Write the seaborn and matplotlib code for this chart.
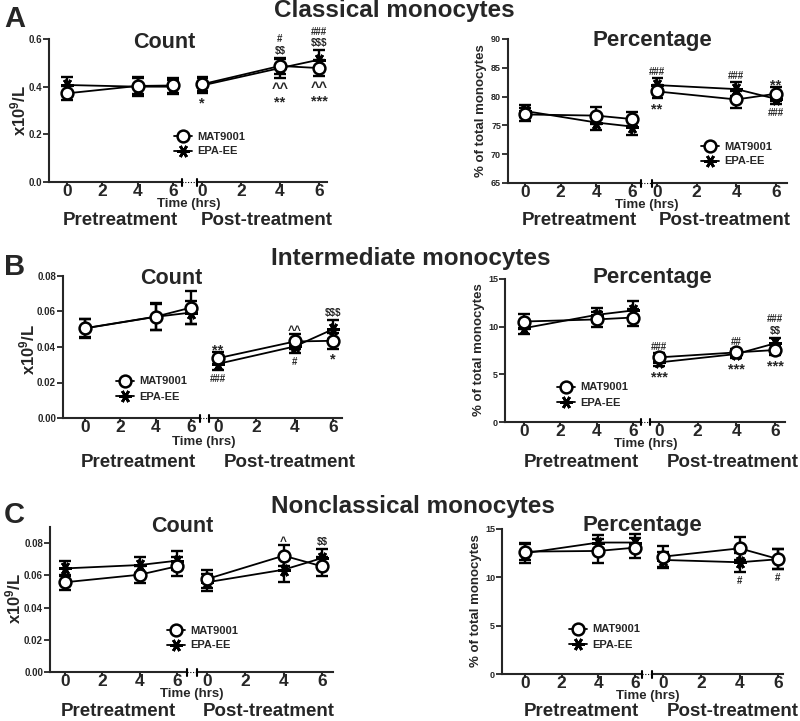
import matplotlib
matplotlib.use("Agg")
import matplotlib.pyplot as plt
from matplotlib.lines import Line2D
import seaborn as sns

# ------------------------------------------------------------------ data
TIMES = [0, 4, 6]
XTICKS = [0, 2, 4, 6]
GROUPS = ["MAT9001", "EPA-EE"]
SEGMENT_LABELS = ["Pretreatment", "Post-treatment"]
X_LABEL = "Time (hrs)"
ROW_TITLES = ["Classical monocytes", "Intermediate monocytes", "Nonclassical monocytes"]
ROW_LETTERS = ["A", "B", "C"]
COL_TITLES = ["Count", "Percentage"]
Y_LABELS = ["x10$^{9}$/L", "% of total monocytes"]

# A - classical, count
A_CNT_MAT_PRE = [0.372, 0.403, 0.405]
A_CNT_MAT_PRE_SEM = [0.030, 0.035, 0.030]
A_CNT_EPA_PRE = [0.407, 0.400, 0.400]
A_CNT_EPA_PRE_SEM = [0.033, 0.040, 0.030]
A_CNT_MAT_POST = [0.410, 0.487, 0.478]
A_CNT_MAT_POST_SEM = [0.030, 0.035, 0.035]
A_CNT_EPA_POST = [0.405, 0.478, 0.513]
A_CNT_EPA_POST_SEM = [0.030, 0.040, 0.040]
A_CNT_SIG = [(0, [], ["*"]), (4, ["$$", "#"], ["^^", "**"]), (6, ["$$$", "###"], ["^^", "***"])]
A_CNT_YTICKS = [0.0, 0.2, 0.4, 0.6]

# A - classical, percentage
A_PCT_MAT_PRE = [76.9, 76.7, 76.1]
A_PCT_MAT_PRE_SEM = [1.1, 1.5, 1.2]
A_PCT_EPA_PRE = [77.5, 75.5, 74.8]
A_PCT_EPA_PRE_SEM = [1.0, 1.3, 1.4]
A_PCT_MAT_POST = [80.9, 79.5, 80.5]
A_PCT_MAT_POST_SEM = [1.2, 1.5, 1.2]
A_PCT_EPA_POST = [82.0, 81.3, 79.6]
A_PCT_EPA_POST_SEM = [1.2, 1.2, 0.9]
A_PCT_SIG = [(0, ["###"], ["**"]), (4, ["###"], []), (6, ["**"], ["###"])]
A_PCT_YTICKS = [65, 70, 75, 80, 85, 90]

# B - intermediate, count
B_CNT_MAT_PRE = [0.0506, 0.0571, 0.0622]
B_CNT_MAT_PRE_SEM = [0.0050, 0.0075, 0.0095]
B_CNT_EPA_PRE = [0.0505, 0.0570, 0.0594]
B_CNT_EPA_PRE_SEM = [0.0055, 0.0073, 0.0064]
B_CNT_MAT_POST = [0.0337, 0.0431, 0.0435]
B_CNT_MAT_POST_SEM = [0.0034, 0.0043, 0.0045]
B_CNT_EPA_POST = [0.0305, 0.0403, 0.0500]
B_CNT_EPA_POST_SEM = [0.0033, 0.0038, 0.0053]
B_CNT_SIG = [(0, ["**"], ["###"]), (4, ["^^"], ["#"]), (6, ["$$$"], ["*"])]
B_CNT_YTICKS = [0.00, 0.02, 0.04, 0.06, 0.08]

# B - intermediate, percentage
B_PCT_MAT_PRE = [10.54, 10.76, 10.96]
B_PCT_MAT_PRE_SEM = [0.80, 0.80, 0.88]
B_PCT_EPA_PRE = [9.84, 11.24, 11.70]
B_PCT_EPA_PRE_SEM = [0.65, 0.70, 0.95]
B_PCT_MAT_POST = [6.78, 7.30, 7.55]
B_PCT_MAT_POST_SEM = [0.45, 0.40, 0.55]
B_PCT_EPA_POST = [6.25, 7.13, 8.25]
B_PCT_EPA_POST_SEM = [0.40, 0.45, 0.60]
B_PCT_SIG = [(0, ["###"], ["***"]), (4, ["##"], ["***"]), (6, ["$$", "###"], ["***"])]
B_PCT_YTICKS = [0, 5, 10, 15]

# C - nonclassical, count
C_CNT_MAT_PRE = [0.0557, 0.0604, 0.0656]
C_CNT_MAT_PRE_SEM = [0.0048, 0.0054, 0.0058]
C_CNT_EPA_PRE = [0.0643, 0.0664, 0.0691]
C_CNT_EPA_PRE_SEM = [0.0048, 0.0050, 0.0057]
C_CNT_MAT_POST = [0.0577, 0.0722, 0.0656]
C_CNT_MAT_POST_SEM = [0.0056, 0.0066, 0.0058]
C_CNT_EPA_POST = [0.0557, 0.0635, 0.0707]
C_CNT_EPA_POST_SEM = [0.0052, 0.0078, 0.0055]
C_CNT_SIG = [(4, ["^"], []), (6, ["$$"], [])]
C_CNT_YTICKS = [0.00, 0.02, 0.04, 0.06, 0.08]

# C - nonclassical, percentage
C_PCT_MAT_PRE = [12.66, 12.73, 13.07]
C_PCT_MAT_PRE_SEM = [0.90, 1.27, 1.03]
C_PCT_EPA_PRE = [12.50, 13.60, 13.60]
C_PCT_EPA_PRE_SEM = [1.00, 0.80, 0.85]
C_PCT_MAT_POST = [12.14, 13.00, 11.90]
C_PCT_MAT_POST_SEM = [1.10, 1.20, 1.04]
C_PCT_EPA_POST = [11.80, 11.56, 11.87]
C_PCT_EPA_POST_SEM = [0.86, 0.96, 1.03]
C_PCT_SIG = [(4, [], ["#"]), (6, [], ["#"])]
C_PCT_YTICKS = [0, 5, 10, 15]

# ------------------------------------------------------------------ style
sns.set_style("ticks")
plt.rcParams["font.family"] = ["Liberation Sans", "DejaVu Sans"]
plt.rcParams["font.weight"] = "bold"
plt.rcParams["mathtext.fontset"] = "custom"
plt.rcParams["mathtext.rm"] = "Liberation Sans:bold"
plt.rcParams["mathtext.bf"] = "Liberation Sans:bold"
plt.rcParams["mathtext.it"] = "Liberation Sans:bold"
plt.rcParams["mathtext.default"] = "bf"

W, H = 800, 721
fig = plt.figure(figsize=(W / 100, H / 100), dpi=100)
fig.patch.set_facecolor("white")


def fx(px):
    return px / W


def fy(py):
    return 1 - py / H


MAT_STYLE = dict(marker="o", markersize=8.5, markerfacecolor="white",
                 markeredgecolor="black", markeredgewidth=1.8)
EPA_STYLE = dict(marker=(6, 2, 90), markersize=9, markerfacecolor="black",
                 markeredgecolor="black", markeredgewidth=2.0)

SYM_FS = {"*": 10.5, "^": 8.5, "#": 7.0, "$": 7.0}
INK_BOT = {"*": 0.40, "^": 0.32, "#": 0.0, "$": -0.06}
DESC = 0.21


def stack_size(lines):
    return max(SYM_FS[s[0]] for s in lines)


def draw_sig(ax, t, top, bot, above, below):
    if above:
        fs = stack_size(above)
        first = above[0][0]
        off = 2.5 - (DESC + INK_BOT[first]) * fs
        txt = "\n".join(reversed(above)).replace("$", r"\$")
        ax.annotate(txt, (t, top), xytext=(0, off), textcoords="offset points",
                    ha="center", va="bottom", fontsize=fs, fontweight="bold",
                    linespacing=1.15, annotation_clip=False)
    if below:
        fs = stack_size(below)
        txt = "\n".join(below).replace("$", r"\$")
        ax.annotate(txt, (t, bot), xytext=(0, -3.0), textcoords="offset points",
                    ha="center", va="top", fontsize=fs, fontweight="bold",
                    linespacing=0.95, annotation_clip=False)


def draw_panel(g, ylim, yticks, yfmt, ytick_fs, series, sig, ylabel, ylab_xy,
               title_xy, time_xy, seg_xy, leg_xy):
    s_pre = (g["pre6"] - g["pre0"]) / 6
    s_post = (g["post6"] - g["post0"]) / 6
    hgt = (g["bot"] - g["top"]) / H
    ax1 = fig.add_axes([fx(g["yx"]), fy(g["bot"]), (g["brk1"] - g["yx"]) / W, hgt])
    ax2 = fig.add_axes([fx(g["brk2"]), fy(g["bot"]), (g["right"] - g["brk2"]) / W, hgt])
    ax1.set_xlim((g["yx"] - g["pre0"]) / s_pre, (g["brk1"] - g["pre0"]) / s_pre)
    ax2.set_xlim((g["brk2"] - g["post0"]) / s_post, (g["right"] - g["post0"]) / s_post)

    for k, ax in enumerate((ax1, ax2)):
        ax.set_ylim(*ylim)
        ax.patch.set_alpha(0)
        (mat, mat_sem), (epa, epa_sem) = series[k]
        for vals, sems, style, z in ((epa, epa_sem, EPA_STYLE, 4), (mat, mat_sem, MAT_STYLE, 5)):
            ax.errorbar(TIMES, vals, yerr=sems, fmt="none", ecolor="black",
                        elinewidth=1.7, capsize=4.5, capthick=1.7, zorder=2)
            sns.lineplot(x=TIMES, y=vals, ax=ax, color="black", linewidth=1.3,
                         legend=False, errorbar=None, zorder=z, clip_on=False, **style)
        ax.set_xticks(XTICKS)
        ax.set_xticklabels([str(t) for t in XTICKS], fontsize=12.5, fontweight="bold")
        ax.tick_params(axis="x", length=3, width=1.5, pad=-1.5, direction="out")
        for sp in ("top", "right"):
            ax.spines[sp].set_visible(False)
        ax.spines["bottom"].set_linewidth(1.5)
        ax.spines["left"].set_linewidth(1.5)
        ax.set_xlabel("")
        ax.set_ylabel("")

    ax1.set_yticks(yticks)
    ax1.set_yticklabels([yfmt.format(v) for v in yticks], fontsize=ytick_fs, fontweight="bold")
    ax1.tick_params(axis="y", length=4.5, width=1.3, pad=0.5)
    ax2.spines["left"].set_visible(False)
    ax2.set_yticks([])

    # significance marks (post-treatment)
    (mat, mat_sem), (epa, epa_sem) = series[1]
    for t, above, below in sig:
        i = TIMES.index(t)
        top = max(mat[i] + mat_sem[i], epa[i] + epa_sem[i])
        bot = min(mat[i] - mat_sem[i], epa[i] - epa_sem[i])
        draw_sig(ax2, t, top, bot, above, below)

    # axis break
    for xb in (g["brk1"], g["brk2"]):
        fig.add_artist(Line2D([fx(xb)] * 2, [fy(g["bot"] - 3.5), fy(g["bot"] + 3.5)],
                              color="black", lw=1.5))
    fig.add_artist(Line2D([fx(g["brk1"]), fx(g["brk2"])], [fy(g["bot"])] * 2,
                          color="black", lw=0.8, ls=(0, (1, 1.5))))

    # texts
    fig.text(fx(ylab_xy[0]), fy(ylab_xy[1]), ylabel, rotation=90, ha="center",
             va="center", fontsize=ylab_xy[2], fontweight="bold")
    fig.text(fx(title_xy[0]), fy(title_xy[1]), title_xy[2], ha="center",
             va="baseline", fontsize=title_xy[3], fontweight="bold")
    fig.text(fx(time_xy[0]), fy(time_xy[1]), X_LABEL, ha="center", va="baseline",
             fontsize=9.5, fontweight="bold")
    fig.text(fx(seg_xy[0]), fy(seg_xy[2]), SEGMENT_LABELS[0], ha="center",
             va="baseline", fontsize=13.5, fontweight="bold")
    fig.text(fx(seg_xy[1]), fy(seg_xy[2]), SEGMENT_LABELS[1], ha="center",
             va="baseline", fontsize=13.5, fontweight="bold")

    handles = [Line2D([], [], color="black", lw=1.3, **MAT_STYLE),
               Line2D([], [], color="black", lw=1.3, **EPA_STYLE)]
    fig.legend(handles, GROUPS, loc="center left",
               bbox_to_anchor=(fx(leg_xy[0] - 9), fy(leg_xy[1])),
               frameon=False, borderpad=0, borderaxespad=0, handlelength=1.6,
               handletextpad=0.5, labelspacing=0.45,
               prop={"size": 8, "weight": "bold"})


# row titles / letters
ROW_BASE = [17, 265, 513]
ROW_TITLE_X = [394, 411, 413]
for r in range(3):
    fig.text(fx(4), fy(ROW_BASE[r] + 10), ROW_LETTERS[r], ha="left", va="baseline",
             fontsize=21, fontweight="bold")
    fig.text(fx(ROW_TITLE_X[r]), fy(ROW_BASE[r]), ROW_TITLES[r], ha="center",
             va="baseline", fontsize=17.5, fontweight="bold")

# Panel A
draw_panel(dict(yx=49, pre0=67, pre6=173, brk1=182, brk2=197, post0=202, post6=319,
                right=327, top=39, bot=182),
           (0, 0.6), A_CNT_YTICKS, "{:.1f}", 7,
           [((A_CNT_MAT_PRE, A_CNT_MAT_PRE_SEM), (A_CNT_EPA_PRE, A_CNT_EPA_PRE_SEM)),
            ((A_CNT_MAT_POST, A_CNT_MAT_POST_SEM), (A_CNT_EPA_POST, A_CNT_EPA_POST_SEM))],
           A_CNT_SIG, Y_LABELS[0], (18, 110, 12),
           (164, 48, COL_TITLES[0], 15.5), (189, 207), (120, 267, 225), (183, 144))
draw_panel(dict(yx=508, pre0=525, pre6=632, brk1=641, brk2=652, post0=657, post6=776,
                right=787, top=39, bot=183),
           (65, 90), A_PCT_YTICKS, "{:d}", 6.5,
           [((A_PCT_MAT_PRE, A_PCT_MAT_PRE_SEM), (A_PCT_EPA_PRE, A_PCT_EPA_PRE_SEM)),
            ((A_PCT_MAT_POST, A_PCT_MAT_POST_SEM), (A_PCT_EPA_POST, A_PCT_EPA_POST_SEM))],
           A_PCT_SIG, Y_LABELS[1], (481, 111, 9.5),
           (652, 46, COL_TITLES[1], 16), (647, 208), (579, 725, 225), (710, 154))

# Panel B
draw_panel(dict(yx=63, pre0=85, pre6=191, brk1=200, brk2=209, post0=218, post6=333,
                right=342, top=276, bot=418),
           (0, 0.08), B_CNT_YTICKS, "{:.2f}", 7,
           [((B_CNT_MAT_PRE, B_CNT_MAT_PRE_SEM), (B_CNT_EPA_PRE, B_CNT_EPA_PRE_SEM)),
            ((B_CNT_MAT_POST, B_CNT_MAT_POST_SEM), (B_CNT_EPA_POST, B_CNT_EPA_POST_SEM))],
           B_CNT_SIG, Y_LABELS[0], (27, 349, 12),
           (171, 284, COL_TITLES[0], 15.5), (204, 445), (138, 290, 467), (125, 389))
draw_panel(dict(yx=505, pre0=524, pre6=633, brk1=641, brk2=650, post0=659, post6=775,
                right=785, top=279, bot=422),
           (0, 15), B_PCT_YTICKS, "{:d}", 6.5,
           [((B_PCT_MAT_PRE, B_PCT_MAT_PRE_SEM), (B_PCT_EPA_PRE, B_PCT_EPA_PRE_SEM)),
            ((B_PCT_MAT_POST, B_PCT_MAT_POST_SEM), (B_PCT_EPA_POST, B_PCT_EPA_POST_SEM))],
           B_PCT_SIG, Y_LABELS[1], (479, 350, 9.5),
           (652, 283, COL_TITLES[1], 16), (646, 447), (581, 733, 467), (566, 395))

# Panel C
draw_panel(dict(yx=50, pre0=65, pre6=177, brk1=187, brk2=197, post0=207, post6=322,
                right=333, top=527, bot=672),
           (0, 0.09), C_CNT_YTICKS, "{:.2f}", 7,
           [((C_CNT_MAT_PRE, C_CNT_MAT_PRE_SEM), (C_CNT_EPA_PRE, C_CNT_EPA_PRE_SEM)),
            ((C_CNT_MAT_POST, C_CNT_MAT_POST_SEM), (C_CNT_EPA_POST, C_CNT_EPA_POST_SEM))],
           C_CNT_SIG, Y_LABELS[0], (13, 598, 12),
           (182, 532, COL_TITLES[0], 15.5), (192, 697), (118, 269, 716), (176, 638))
draw_panel(dict(yx=502, pre0=525, pre6=635, brk1=642, brk2=652, post0=663, post6=778,
                right=783, top=529, bot=674),
           (0, 15), C_PCT_YTICKS, "{:d}", 6.5,
           [((C_PCT_MAT_PRE, C_PCT_MAT_PRE_SEM), (C_PCT_EPA_PRE, C_PCT_EPA_PRE_SEM)),
            ((C_PCT_MAT_POST, C_PCT_MAT_POST_SEM), (C_PCT_EPA_POST, C_PCT_EPA_POST_SEM))],
           C_PCT_SIG, Y_LABELS[1], (476, 601, 9.5),
           (642, 531, COL_TITLES[1], 16), (648, 699), (581, 733, 716), (578, 637))

fig.savefig("out.png", dpi=100, facecolor="white")
